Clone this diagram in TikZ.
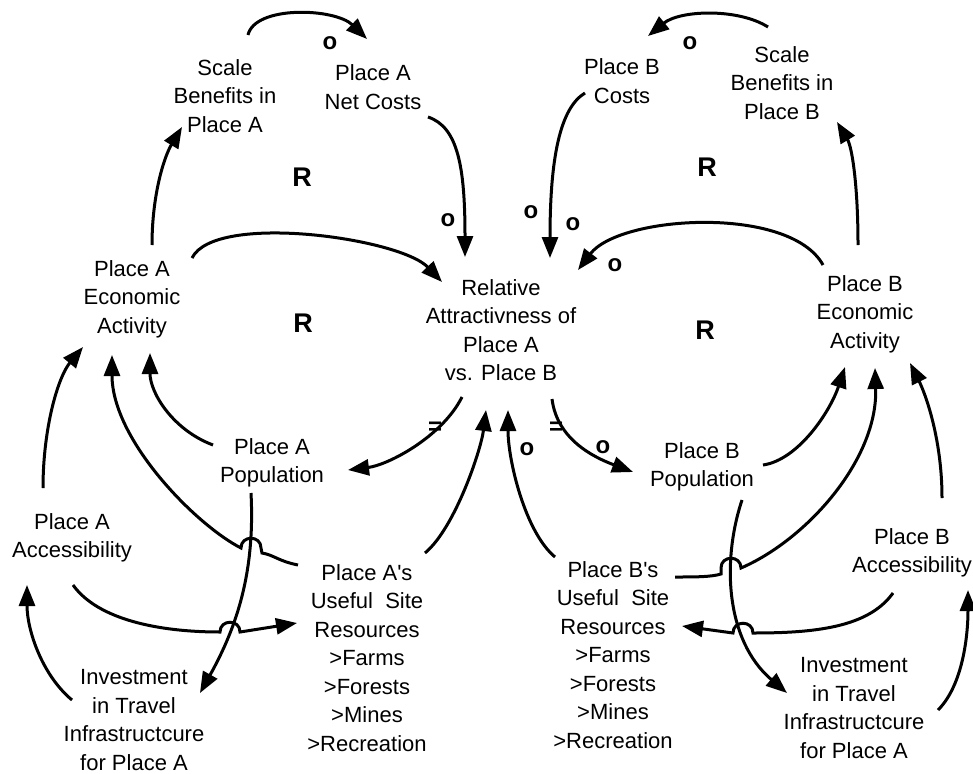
\documentclass[tikz,border=0pt]{standalone}
\usepackage{fontspec}
\setmainfont{Liberation Sans}
\usetikzlibrary{arrows.meta}
\begin{document}
\begin{tikzpicture}[x=1pt,y=-1pt,
  lbl/.style={font=\fontsize{22}{28.5}\selectfont, align=center, inner sep=0pt},
  link/.style={line width=3pt, -{Triangle[length=21pt,width=16pt]}},
  pol/.style={font=\bfseries\fontsize{24}{24}\selectfont, inner sep=0pt},
  loopR/.style={font=\bfseries\fontsize{27}{27}\selectfont, inner sep=0pt}]
\useasboundingbox (0,0) rectangle (973,773);
% nodes
\node[lbl] (scaleA) at (225,96) {Scale\\Benefits in\\Place A};
\node[lbl] (netA) at (373,87) {Place A\\Net Costs};
\node[lbl] (costB) at (622,81) {Place B\\Costs};
\node[lbl] (scaleB) at (782,83) {Scale\\Benefits in\\Place B};
\node[lbl] (econA) at (132,299) {Place A\\Economic\\Activity};
\node[lbl] (rel) at (501,330) {Relative\\Attractivness of\\Place A\\vs. Place B};
\node[lbl] (econB) at (865,314) {Place B\\Economic\\Activity};
\node[lbl] (popA) at (272,463) {Place A\\Population};
\node[lbl] (popB) at (702,467) {Place B\\Population};
\node[lbl] (accA) at (72,538) {Place A\\Accessibility};
\node[lbl] (accB) at (912,553) {Place B\\Accessibility};
\node[lbl] (usefulA) at (367,658) {Place A\textquotesingle s\\Useful\ \ Site\\Resources\\>Farms\\>Forests\\>Mines\\>Recreation};
\node[lbl] (usefulB) at (613,655) {Place B\textquotesingle s\\Useful\ \ Site\\Resources\\>Farms\\>Forests\\>Mines\\>Recreation};
\node[lbl] (invA) at (134,720) {Investment\\in Travel\\Infrastructcure\\for Place A};
\node[lbl] (invB) at (854,708) {Investment\\in Travel\\Infrastructcure\\for Place A};
% hop points
\coordinate (hA1) at (251,548);
\coordinate (hA2) at (230,632);
\coordinate (hB1) at (731,568);
\coordinate (hB2) at (743,633);
% connectors
\draw[link] ([shift={(23,-61)}]scaleA.center) .. controls +(7,-30) and +(-32,-31) .. ([shift={(-6,-48)}]netA.center);
\draw[link] ([shift={(55,30)}]netA.center) .. controls +(30,10) and +(0,-90) .. ([shift={(-36,-73)}]rel.center);
\draw[link] ([shift={(60,-41)}]econA.center) .. controls +(23,-46) and +(-42,-44) .. ([shift={(-59,-48)}]rel.center);
\draw[link] ([shift={(20,-54)}]econA.center) .. controls +(0,-50) and +(-18,30) .. ([shift={(-43,31)}]scaleA.center);
\draw[link] ([shift={(-37,12)}]costB.center) .. controls +(-25,15) and +(0,-100) .. ([shift={(49,-72)}]rel.center);
\draw[link] ([shift={(-14,-56)}]scaleB.center) .. controls +(-30,-19) and +(32,-26) .. ([shift={(26,-45)}]costB.center);
\draw[link] ([shift={(-7,-69)}]econB.center) .. controls +(0,-60) and +(15,25) .. ([shift={(55,39)}]scaleB.center);
\draw[link] ([shift={(-42,-49)}]econB.center) .. controls +(-33,-60) and +(42,-55) .. ([shift={(77,-60)}]rel.center);
\draw[link] ([shift={(-39,67)}]rel.center) .. controls +(-20,40) and +(40,-5) .. ([shift={(76,7)}]popA.center);
\draw[link] ([shift={(51,69)}]rel.center) .. controls +(5,40) and +(-40,-15) .. ([shift={(-69,5)}]popB.center);
\draw[link] ([shift={(-59,-18)}]popA.center) .. controls +(-40,-15) and +(0,40) .. ([shift={(18,54)}]econA.center);
\draw[link] ([shift={(-69,-93)}]usefulA.center) .. controls +(-20,-4) and +(12,2) .. ([shift={(11,5)}]hA1) -- ([shift={(10,0)}]hA1) .. controls +(0,-13) and +(0,-13) .. ([shift={(-10,0)}]hA1) .. controls +(-45,-23) and +(0,85) .. ([shift={(-20,56)}]econA.center);
\draw[link] ([shift={(-29,-50)}]accA.center) .. controls +(0,-60) and +(-25,30) .. ([shift={(-49,48)}]econA.center);
\draw[link] ([shift={(58,-105)}]usefulA.center) .. controls +(30,-25) and +(-5,40) .. ([shift={(-15,80)}]rel.center);
\draw[link] ([shift={(-58,-98)}]usefulB.center) .. controls +(-30,-25) and +(0,50) .. ([shift={(7,80)}]rel.center);
\draw[link] ([shift={(-21,30)}]popA.center) .. controls +(4,77) and +(38,-68) .. ([shift={(66,-27)}]invA.center);
\draw[link] ([shift={(-62,-20)}]invA.center) .. controls +(-30,-25) and +(0,45) .. ([shift={(-45,47)}]accA.center);
\draw[link] ([shift={(1,47)}]accA.center) .. controls +(25,35) and +(-60,0) .. ([shift={(-10,0)}]hA2) .. controls +(0,-13) and +(0,-13) .. ([shift={(10,0)}]hA2) -- ([shift={(-70,-35)}]usefulA.center);
\draw[link] ([shift={(61,-2)}]popB.center) .. controls +(35,-5) and +(-15,45) .. ([shift={(-20,53)}]econB.center);
\draw[link] ([shift={(62,-78)}]usefulB.center) .. controls +(20,0) and +(-10,3) .. ([shift={(-10,6)}]hB1) -- ([shift={(-10,0)}]hB1) .. controls +(0,-13) and +(0,-13) .. ([shift={(10,0)}]hB1) .. controls +(65,-28) and +(3,92) .. ([shift={(10,54)}]econB.center);
\draw[link] ([shift={(30,-55)}]accB.center) .. controls +(0,-60) and +(15,30) .. ([shift={(-2,-190)}]accB.center);
\draw[link] ([shift={(40,33)}]popB.center) .. controls +(-20,60) and +(-62,-53) .. ([shift={(-67,-15)}]invB.center);
\draw[link] ([shift={(84,2)}]invB.center) .. controls +(25,-25) and +(0,45) .. ([shift={(56,37)}]accB.center);
\draw[link] ([shift={(-19,40)}]accB.center) .. controls +(-25,35) and +(60,0) .. ([shift={(10,0)}]hB2) .. controls +(0,-13) and +(0,-13) .. ([shift={(-10,0)}]hB2) -- ([shift={(69,-29)}]usefulB.center);
% polarity labels
\node[pol] (o1) at (330,43) {o};
\node[pol] (o2) at (448,220) {o};
\node[pol] (o3) at (690,43) {o};
\node[pol] (o4) at (531,212) {o};
\node[pol] (o5) at (573,224) {o};
\node[pol] (o6) at (615,265) {o};
\node[pol] (o7) at (527,449) {o};
\node[pol] (o8) at (603,447) {o};
\node[pol] (eq1) at (435,428) {=};
\node[pol] (eq2) at (556,428) {=};
% loop labels
\node[loopR] (r1) at (302,177) {R};
\node[loopR] (r2) at (707,167) {R};
\node[loopR] (r3) at (303,323) {R};
\node[loopR] (r4) at (705,330) {R};
\end{tikzpicture}
\end{document}
